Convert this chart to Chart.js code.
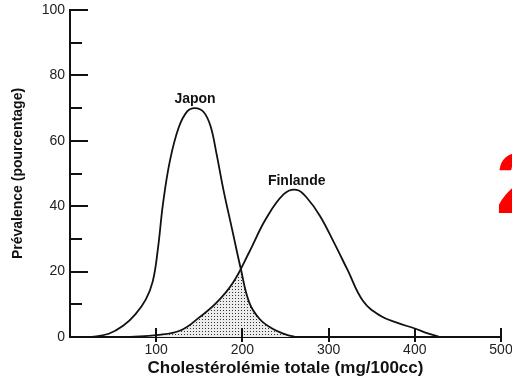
<!DOCTYPE html>
<html lang="fr">
<head>
<meta charset="utf-8">
<title>Prévalence et cholestérolémie</title>
<script src="https://cdn.jsdelivr.net/npm/chart.js@4/dist/chart.umd.min.js"></script>
<style>
  html, body { margin: 0; padding: 0; background: #fff; }
  #chart { display: block; }
</style>
</head>
<body>
<canvas id="chart" width="512" height="379"></canvas>
<script>
// cholestérolémie (mg/100cc) and prévalence (%) for each population
const japonX = [25, 45, 62, 76, 88, 96, 102, 108, 116, 126, 136, 145, 155, 163, 170, 178, 188, 198, 208, 220, 235, 250, 262];
const japonY = [0, 1, 3.5, 7, 11.5, 17, 27, 41, 54, 64, 69, 70, 68.8, 64.5, 56, 45, 33, 21, 10.5, 5.5, 2.5, 0.8, 0];

const finlandeX = [70, 100, 128, 150, 170, 189, 208, 227, 248, 263, 275, 290, 306, 322, 340, 360, 380, 400, 415, 429];
const finlandeY = [0, 0.6, 2, 6, 10.5, 16.6, 26, 36, 43.7, 45, 42.5, 37, 29, 20.5, 11, 6.5, 4.3, 2.6, 1.1, 0];

const seriesNames = ['Japon', 'Finlande'];
const yTickMarks = [10, 20, 30, 40, 50, 60, 70, 80, 90, 100];
const xTickMarks = [100, 200, 300, 400, 500];

const toPoints = (xs, ys) => xs.map((x, i) => ({ x: x, y: ys[i] }));

// small dot pattern for the overlap area
function makeDots() {
    const c = document.createElement('canvas');
    c.width = 3;
    c.height = 3;
    const g = c.getContext('2d');
    g.fillStyle = '#ececec';
    g.fillRect(0, 0, 3, 3);
    g.fillStyle = '#333';
    g.fillRect(1, 1, 1, 1);
    return g.createPattern(c, 'repeat');
}

// fills the area under both curves (clip under Japon, fill under Finlande)
const overlapFill = {
    id: 'overlapFill',
    beforeDatasetsDraw(chart) {
        const { ctx, chartArea, scales: { y } } = chart;
        const base = y.getPixelForValue(0);
        const lines = [0, 1].map(i => chart.getDatasetMeta(i).dataset);
        lines.forEach(l => l.updateControlPoints(chartArea, 'x'));

        const area = line => {
            const pts = line.points;
            ctx.beginPath();
            line.path(ctx);
            ctx.lineTo(pts[pts.length - 1].x, base);
            ctx.lineTo(pts[0].x, base);
            ctx.closePath();
        };

        ctx.save();
        area(lines[0]);
        ctx.clip();
        area(lines[1]);
        ctx.fillStyle = makeDots();
        ctx.fill();
        ctx.restore();
    }
};

// inward tick marks on both axes
const tickMarks = {
    id: 'tickMarks',
    afterDraw(chart) {
        const { ctx, scales: { x, y } } = chart;
        ctx.save();
        ctx.strokeStyle = '#111';
        ctx.lineWidth = 2;
        ctx.beginPath();
        yTickMarks.forEach(v => {
            const py = Math.round(y.getPixelForValue(v));
            const len = v % 20 === 0 ? 18 : 12;
            ctx.moveTo(x.left, py);
            ctx.lineTo(x.left + len, py);
        });
        xTickMarks.forEach(v => {
            const px = Math.round(x.getPixelForValue(v));
            ctx.moveTo(px, y.bottom - 9);
            ctx.lineTo(px, y.bottom + 5);
        });
        ctx.stroke();
        ctx.restore();
    }
};

// series names above each peak, plus the large figure number
const annotations = {
    id: 'annotations',
    afterDraw(chart) {
        const { ctx, scales: { x, y } } = chart;
        ctx.save();
        ctx.fillStyle = '#111';
        ctx.font = 'bold 14px "Liberation Sans", Arial, sans-serif';
        ctx.textAlign = 'center';
        ctx.textBaseline = 'bottom';
        chart.data.datasets.forEach(ds => {
            const peak = ds.data.reduce((a, b) => (b.y > a.y ? b : a));
            ctx.fillText(ds.label, x.getPixelForValue(peak.x), y.getPixelForValue(peak.y) - 2);
        });

        ctx.fillStyle = '#ff0000';
        ctx.font = 'bold 85px "Liberation Sans", Arial, sans-serif';
        ctx.textAlign = 'left';
        ctx.textBaseline = 'alphabetic';
        ctx.fillText('2', 496, 213);
        ctx.restore();
    }
};

const tickFont = { family: '"Liberation Sans", Arial, sans-serif', size: 14 };

new Chart(document.getElementById('chart'), {
    type: 'line',
    data: {
        datasets: [
            {
                label: seriesNames[0],
                data: toPoints(japonX, japonY),
                borderColor: '#111',
                borderWidth: 1.8,
                pointRadius: 0,
                tension: 0.4,
                fill: false
            },
            {
                label: seriesNames[1],
                data: toPoints(finlandeX, finlandeY),
                borderColor: '#111',
                borderWidth: 1.8,
                pointRadius: 0,
                tension: 0.4,
                fill: false
            }
        ]
    },
    options: {
        responsive: false,
        animation: false,
        layout: { padding: { top: 10, right: 11, left: 0, bottom: 0 } },
        plugins: {
            legend: { display: false },
            tooltip: { enabled: false }
        },
        scales: {
            x: {
                type: 'linear',
                min: 0,
                max: 500,
                grid: { display: false, drawTicks: false },
                border: { display: true, color: '#111', width: 2 },
                ticks: {
                    stepSize: 100,
                    padding: 5,
                    color: '#222',
                    font: tickFont,
                    maxRotation: 0,
                    callback: v => (v === 0 ? '' : v)
                },
                title: {
                    display: true,
                    text: 'Cholestérolémie totale (mg/100cc)',
                    color: '#111',
                    font: { family: '"Liberation Sans", Arial, sans-serif', size: 17, weight: 'bold' },
                    padding: { top: 0, bottom: 0 }
                },
                afterFit(scale) {
                    scale.height = 42;
                    scale.paddingLeft = 0;
                    scale.paddingRight = 0;
                }
            },
            y: {
                min: 0,
                max: 100,
                grid: { display: false, drawTicks: false },
                border: { display: true, color: '#111', width: 2 },
                ticks: {
                    stepSize: 20,
                    padding: 5,
                    color: '#222',
                    font: tickFont
                },
                title: {
                    display: true,
                    text: 'Prévalence (pourcentage)',
                    color: '#111',
                    font: { family: '"Liberation Sans", Arial, sans-serif', size: 14, weight: 'bold' },
                    padding: { top: 10, bottom: 0 }
                },
                afterFit(scale) {
                    scale.width = 70;
                    scale.paddingTop = 0;
                    scale.paddingBottom = 0;
                }
            }
        }
    },
    plugins: [overlapFill, tickMarks, annotations]
});
</script>
</body>
</html>
